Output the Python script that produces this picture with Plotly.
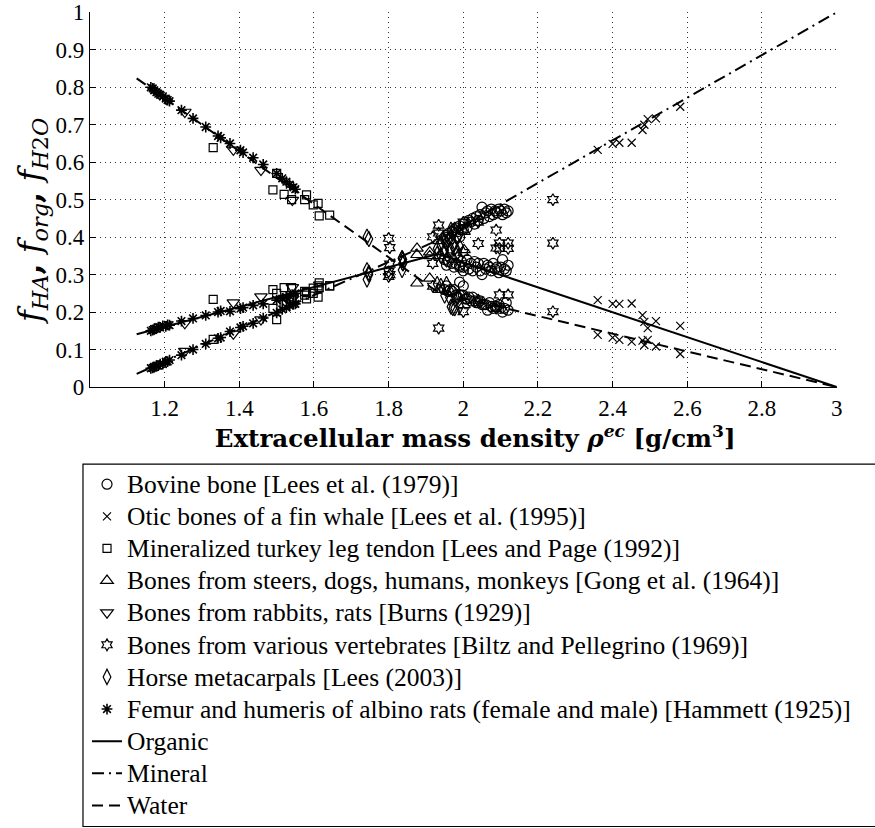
import plotly.graph_objects as go

# ---------------- model curves (piecewise linear) ----------------
model_rho = [1.125, 1.932, 3.0]
model_org = [0.141, 0.355, 0.0]
model_ha = [0.035, 0.392, 1.0]
model_water = [0.824, 0.253, 0.0]

# ---------------- experimental data ----------------
# Bovine bone [Lees et al. (1979)]
bov_rho = [1.950, 1.955, 1.960, 1.965, 1.970, 1.975, 1.980, 1.985, 1.990, 1.995,
           2.000, 2.005, 2.010, 2.015, 2.020, 2.025, 2.030, 2.035, 2.040, 2.045,
           2.050, 2.055, 2.060, 2.065, 2.070, 2.075, 2.080, 2.085, 2.090, 2.095,
           2.100, 2.105, 2.110, 2.115, 2.120, 2.000, 1.990]
bov_ha = [0.400, 0.405, 0.410, 0.395, 0.415, 0.420, 0.425, 0.415, 0.430, 0.420,
          0.435, 0.440, 0.425, 0.445, 0.440, 0.450, 0.435, 0.455, 0.445, 0.460,
          0.480, 0.450, 0.465, 0.470, 0.455, 0.475, 0.460, 0.470, 0.465, 0.475,
          0.470, 0.460, 0.475, 0.465, 0.470, 0.420, 0.400]
bov_org = [0.340, 0.325, 0.335, 0.345, 0.330, 0.320, 0.330, 0.345, 0.325, 0.335,
           0.320, 0.325, 0.340, 0.315, 0.330, 0.310, 0.335, 0.320, 0.330, 0.310,
           0.300, 0.330, 0.315, 0.325, 0.320, 0.310, 0.330, 0.315, 0.320, 0.305,
           0.320, 0.340, 0.315, 0.310, 0.325, 0.310, 0.320]
bov_water = [0.260, 0.270, 0.255, 0.260, 0.255, 0.260, 0.245, 0.240, 0.245, 0.245,
             0.245, 0.235, 0.235, 0.240, 0.230, 0.240, 0.230, 0.225, 0.225, 0.230,
             0.220, 0.220, 0.220, 0.205, 0.225, 0.215, 0.210, 0.215, 0.215, 0.220,
             0.210, 0.200, 0.210, 0.225, 0.205, 0.270, 0.280]

# Otic bones of a fin whale [Lees et al. (1995)]
wha_rho = [2.360, 2.400, 2.418, 2.451, 2.480, 2.485, 2.494, 2.516, 2.581]
wha_ha = [0.633, 0.649, 0.652, 0.652, 0.686, 0.700, 0.715, 0.717, 0.748]
wha_org = [0.232, 0.222, 0.222, 0.223, 0.192, 0.174, 0.157, 0.176, 0.163]
wha_water = [0.139, 0.132, 0.126, 0.121, 0.124, 0.112, 0.126, 0.108, 0.088]

# Mineralized turkey leg tendon [Lees and Page (1992)]
tur_rho = [1.330, 1.490, 1.500, 1.520, 1.540, 1.575, 1.580, 1.598, 1.611, 1.614, 1.642]
tur_ha = [0.127, 0.210, 0.180, 0.220, 0.235, 0.245, 0.235, 0.250, 0.240, 0.265, 0.270]
tur_org = [0.234, 0.260, 0.250, 0.265, 0.265, 0.255, 0.252, 0.264, 0.270, 0.278, 0.270]
tur_water = [0.639, 0.526, 0.570, 0.514, 0.500, 0.500, 0.513, 0.486, 0.490, 0.457, 0.459]

# Bones from steers, dogs, humans, monkeys [Gong et al. (1964)]
gon_rho = [1.876, 1.910, 1.935, 2.002]
gon_ha = [0.353, 0.360, 0.390, 0.415]
gon_org = [0.370, 0.350, 0.350, 0.366]
gon_water = [0.277, 0.290, 0.260, 0.219]

# Bones from rabbits, rats [Burns (1929)]
bur_rho = [1.254, 1.384, 1.458, 1.542]
bur_ha = [0.096, 0.142, 0.180, 0.235]
bur_org = [0.170, 0.225, 0.241, 0.266]
bur_water = [0.734, 0.633, 0.579, 0.499]

# Bones from various vertebrates [Biltz and Pellegrino (1969)]
bil_rho = [1.800, 1.803, 1.918, 1.934, 2.000, 2.040, 2.088, 2.097, 2.120, 2.240]
bil_ha = [0.397, 0.372, 0.401, 0.432, 0.440, 0.440, 0.419, 0.384, 0.384, 0.500]
bil_org = [0.308, 0.328, 0.330, 0.411, 0.359, 0.383, 0.371, 0.370, 0.370, 0.384]
bil_water = [0.295, 0.300, 0.269, 0.157, 0.201, 0.232, 0.210, 0.246, 0.246, 0.201]

# Horse metacarpals [Lees (2003)]
hor_rho = [1.742, 1.747, 1.836, 1.838, 1.930, 1.940, 1.950, 1.955, 1.963, 1.967,
           1.972, 1.977, 1.985, 1.990]
hor_ha = [0.287, 0.300, 0.344, 0.340, 0.370, 0.380, 0.390, 0.385, 0.395, 0.420,
          0.410, 0.420, 0.400, 0.410]
hor_org = [0.312, 0.305, 0.344, 0.330, 0.355, 0.350, 0.366, 0.340, 0.366, 0.366,
           0.379, 0.370, 0.360, 0.375]
hor_water = [0.401, 0.395, 0.312, 0.330, 0.275, 0.270, 0.244, 0.275, 0.239, 0.214,
             0.211, 0.210, 0.240, 0.215]

# Femur and humeris of albino rats [Hammett (1925)]
ham_rho = [1.163, 1.168, 1.172, 1.178, 1.183, 1.188, 1.195, 1.203, 1.208, 1.213,
           1.245, 1.276, 1.310, 1.343, 1.350, 1.375, 1.403, 1.410, 1.437, 1.464,
           1.500, 1.515, 1.526, 1.535, 1.545, 1.550]
ham_ha = [0.050, 0.051, 0.053, 0.057, 0.057, 0.061, 0.061, 0.068, 0.068, 0.072,
          0.085, 0.100, 0.115, 0.130, 0.132, 0.148, 0.159, 0.162, 0.170, 0.184,
          0.198, 0.207, 0.212, 0.217, 0.221, 0.222]
ham_org = [0.150, 0.152, 0.155, 0.156, 0.160, 0.159, 0.163, 0.162, 0.166, 0.165,
           0.176, 0.183, 0.191, 0.200, 0.203, 0.202, 0.209, 0.212, 0.218, 0.222,
           0.232, 0.236, 0.240, 0.243, 0.246, 0.250]
ham_water = [0.800, 0.797, 0.792, 0.787, 0.783, 0.780, 0.776, 0.770, 0.766, 0.763,
             0.739, 0.717, 0.694, 0.670, 0.665, 0.650, 0.632, 0.626, 0.612, 0.594,
             0.570, 0.557, 0.548, 0.540, 0.533, 0.528]

x_tickvals = [1.2, 1.4, 1.6, 1.8, 2.0, 2.2, 2.4, 2.6, 2.8, 3.0]
x_ticktext = ["1.2", "1.4", "1.6", "1.8", "2", "2.2", "2.4", "2.6", "2.8", "3"]
y_tickvals = [0, 0.1, 0.2, 0.3, 0.4, 0.5, 0.6, 0.7, 0.8, 0.9, 1.0]
y_ticktext = ["0", "0.1", "0.2", "0.3", "0.4", "0.5", "0.6", "0.7", "0.8", "0.9", "1"]

FONT = "'Liberation Serif', 'Times New Roman', Times, serif"
WIDE = "'DejaVu Serif', 'Liberation Serif', serif"


def leg(label):
    return '<span style="font-size:25.5px">' + label + '</span>'


fig = go.Figure()

# model lines
line_specs = [
    ("Organic", model_org, "solid", 9),
    ("Mineral", model_ha, "12px,5px,2px,5px", 10),
    ("Water", model_water, "11px,6px", 11),
]
for name, ys, dash, rank in line_specs:
    fig.add_trace(go.Scatter(
        x=model_rho, y=ys, mode="lines", name=leg(name), legendrank=rank,
        line=dict(color="black", width=2, dash=dash)))

marker_specs = [
    ("Bovine bone [Lees et al. (1979)]", bov_rho, bov_ha, bov_org, bov_water, "circle-open", 10),
    ("Otic bones of a fin whale [Lees et al. (1995)]", wha_rho, wha_ha, wha_org, wha_water, "x-thin-open", 8),
    ("Mineralized turkey leg tendon [Lees and Page (1992)]", tur_rho, tur_ha, tur_org, tur_water, "square-open", 8),
    ("Bones from steers, dogs, humans, monkeys [Gong et al. (1964)]", gon_rho, gon_ha, gon_org, gon_water, "triangle-up-open", 11),
    ("Bones from rabbits, rats [Burns (1929)]", bur_rho, bur_ha, bur_org, bur_water, "triangle-down-open", 11),
    ("Bones from various vertebrates [Biltz and Pellegrino (1969)]", bil_rho, bil_ha, bil_org, bil_water, "hexagram-open", 9),
    ("Horse metacarpals [Lees (2003)]", hor_rho, hor_ha, hor_org, hor_water, "diamond-tall-open", 11),
    ("Femur and humeris of albino rats (female and male) [Hammett (1925)]", ham_rho, ham_ha, ham_org, ham_water, "asterisk-open", 9),
]
for i, (name, rho, ha, org, wat, sym, size) in enumerate(marker_specs):
    fig.add_trace(go.Scatter(
        x=list(rho) * 3, y=list(ha) + list(org) + list(wat), mode="markers",
        name=leg(name), legendrank=i + 1,
        marker=dict(symbol=sym, size=size, color="black",
                    line=dict(color="black", width=1.2 if sym != "asterisk-open" else 1.6))))

axis_common = dict(
    showgrid=True, gridcolor="#333", griddash="1px,4px", gridwidth=1,
    zeroline=False, showline=True, linecolor="black", linewidth=1.2,
    ticks="inside", ticklen=6, tickcolor="black", mirror=False,
    tickfont=dict(family=FONT, size=23, color="black"),
)

fig.update_layout(
    width=875, height=828,
    margin=dict(l=90, r=38, t=12, b=441, autoexpand=False),
    paper_bgcolor="white", plot_bgcolor="white",
    font=dict(family=FONT, color="black"),
    xaxis=dict(range=[1.0, 3.001], tickvals=x_tickvals, ticktext=x_ticktext,
               title=dict(text="&nbsp;&nbsp;&nbsp;<b>Extracellular mass density <i>ρ</i><sup><i>ec</i></sup> [g/cm<sup>3</sup>]</b>",
                          font=dict(family=WIDE, size=24.5, color="black"), standoff=3),
               **axis_common),
    yaxis=dict(range=[0, 1.001], tickvals=y_tickvals, ticktext=y_ticktext,
               title=dict(text="<i>f</i><sub><i>HA</i></sub><b>,</b> <i>f</i><sub><i>org</i></sub><b>,</b> <i>f</i><sub><i>H</i>2<i>O</i></sub>&nbsp;&nbsp;&nbsp;&nbsp;",
                          font=dict(family=WIDE, size=32, color="black"), standoff=4),
               **axis_common),
    showlegend=True,
    legend=dict(x=-0.004, y=-0.203, xanchor="left", yanchor="top",
                bgcolor="rgba(0,0,0,0)", borderwidth=0,
                font=dict(family=FONT, size=22.4, color="black"),
                traceorder="normal", tracegroupgap=0),
    shapes=[dict(type="rect", xref="paper", yref="paper",
                 x0=-0.0094, x1=1.09, y0=-1.172, y1=-0.2056,
                 line=dict(color="black", width=1.2), fillcolor="rgba(0,0,0,0)")],
)

fig.write_html("out.html")
